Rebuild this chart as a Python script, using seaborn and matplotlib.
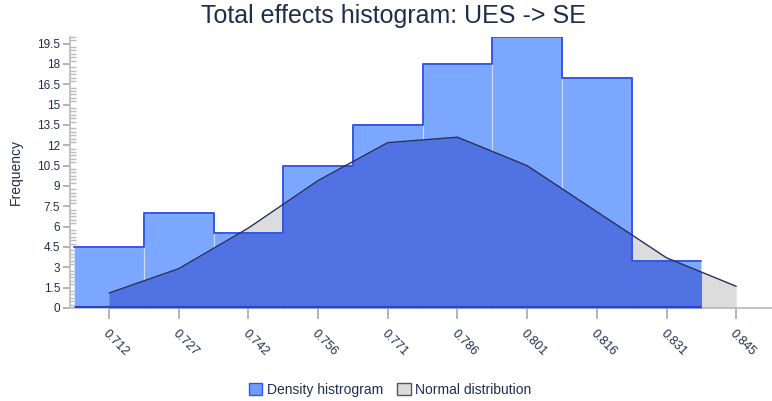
import numpy as np
import pandas as pd
import matplotlib
matplotlib.use("Agg")
import matplotlib.pyplot as plt
from matplotlib.patches import Patch
from matplotlib.ticker import MultipleLocator
import seaborn as sns

# bin centre labels (x axis) and series
bin_labels = ["0.712", "0.727", "0.742", "0.756", "0.771", "0.786", "0.801", "0.816", "0.831", "0.845"]
hist_freq = [4.5, 7, 5.5, 10.5, 13.5, 18, 20, 17, 3.5]
normal_freq = [1.1, 2.9, 5.9, 9.4, 12.2, 12.6, 10.5, 7.1, 3.7, 1.6]

sns.set_theme(style="white")
plt.rcParams["font.family"] = ["Liberation Sans", "DejaVu Sans"]

text_col = "#1f2d4f"
bar_col = "#7ba7ff"
bar_edge = "#3557e6"
overlap_col = "#5072e2"
gray_fill = "#dcdcdc"

pos = np.arange(len(bin_labels))
# list, not array: seaborn compares bins to "auto" when weights are given
edges = [i - 0.5 for i in range(len(hist_freq) + 1)]
df = pd.DataFrame({"bin": pos[:len(hist_freq)], "freq": hist_freq})

fig = plt.figure(figsize=(7.72, 4.01), dpi=100)
ax = fig.add_axes([0.0907, 0.232, 0.909, 0.676])

# normal distribution area (gray where it sticks out of the bars)
ax.fill_between(pos, normal_freq, color=gray_fill, lw=0, zorder=1)

# histogram bars
sns.histplot(data=df, x="bin", weights="freq", bins=edges, ax=ax,
             color=bar_col, alpha=1, edgecolor="#cddbff", linewidth=0.8, zorder=2)
bars = list(ax.patches)

# darker blue where the normal area lies under the bars
for b in bars:
    poly = ax.fill_between(pos, normal_freq, color=overlap_col, lw=0, zorder=3)
    poly.set_clip_path(b)

# outline of the histogram
sns.histplot(data=df, x="bin", weights="freq", bins=edges, ax=ax,
             element="step", fill=False, color=bar_edge, linewidth=1.4, zorder=4)
ax.plot([edges[0], edges[-1]], [0.1, 0.1], color="#2c44c4", lw=2.2, zorder=5,
        solid_capstyle="butt")

# normal distribution line
sns.lineplot(x=pos, y=normal_freq, ax=ax, color="#2a2f5c", lw=1.0, zorder=6)

ax.set_xlim(-0.56, 9.51)
ax.set_ylim(0, 20)
ax.set_xticks(pos)
ax.set_xticklabels(bin_labels, rotation=-45, ha="left", rotation_mode="anchor",
                   fontsize=9, color=text_col)
ax.yaxis.set_major_locator(MultipleLocator(1.5))
ax.yaxis.set_minor_locator(MultipleLocator(0.25))
ax.set_yticks(np.arange(0, 20, 1.5))
ax.set_yticklabels([f"{v:g}" for v in np.arange(0, 20, 1.5)], fontsize=8.5, color=text_col)
ax.tick_params(axis="y", which="major", direction="out", length=5, color="#aaaaaa", left=True, pad=2)
ax.tick_params(axis="y", which="minor", direction="in", length=4, color="#bbbbbb", left=True)
ax.tick_params(axis="x", direction="out", length=8, color="#aaaaaa", bottom=True, pad=6)

ax.set_xlabel("")
ax.set_ylabel("Frequency", fontsize=10, color=text_col, labelpad=10)

for s in ["top", "right"]:
    ax.spines[s].set_visible(False)
ax.spines["left"].set_color("#bbbbbb")
ax.spines["bottom"].set_color("#bbbbbb")

fig.suptitle("Total effects histogram: UES -> SE", x=0.51, y=0.99, fontsize=18, color=text_col)

handles = [Patch(facecolor="#6f9bff", edgecolor=bar_edge, label="Density histrogram"),
           Patch(facecolor=gray_fill, edgecolor="#555555", label="Normal distribution")]
fig.legend(handles=handles, loc="lower center", bbox_to_anchor=(0.505, -0.02), ncol=2,
           frameon=False, fontsize=10, handlelength=1.0, handleheight=1.0,
           handletextpad=0.3, columnspacing=1.0, labelcolor=text_col)

fig.savefig("out.png", dpi=100)
